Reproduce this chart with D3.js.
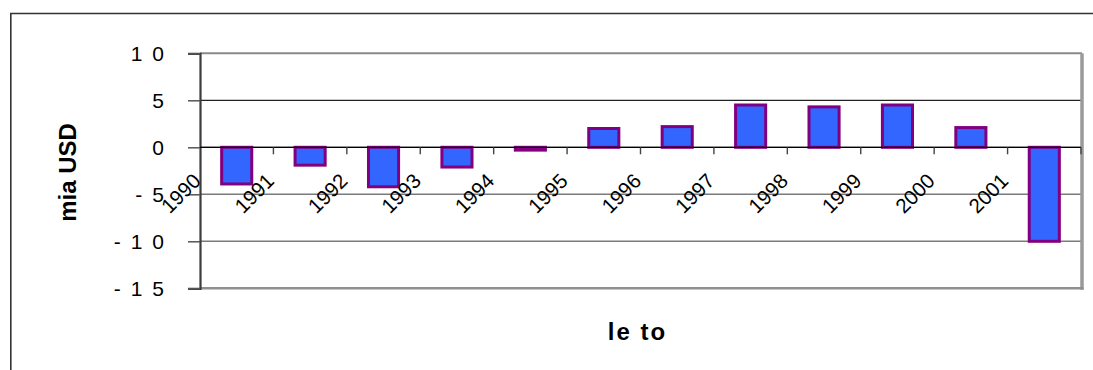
<!DOCTYPE html>
<html>
<head>
<meta charset="utf-8">
<script src="https://cdn.jsdelivr.net/npm/d3@7/dist/d3.min.js"></script>
<style>
  body { margin: 0; background: #fff; }
  svg { display: block; }
  text { font-family: Arial, "Liberation Sans", sans-serif; fill: #000; }
</style>
</head>
<body>
<svg id="chart" width="1093" height="370"></svg>
<script>
// Trade balance by year, bn USD
const years = ["1990", "1991", "1992", "1993", "1994", "1995", "1996", "1997", "1998", "1999", "2000", "2001"];
const balance = [-3.9, -1.9, -4.2, -2.1, -0.3, 2.0, 2.2, 4.5, 4.3, 4.5, 2.1, -10.0];
const yTicks = [10, 5, 0, -5, -10, -15];
const yDomain = [-15, 10];
const yTitle = "mia USD";
const xTitle = "le to";

const svg = d3.select("#chart");
const plot = { left: 200, right: 1081, top: 53.3, bottom: 288.3 };

const x = d3.scaleBand()
  .domain(years)
  .range([plot.left, plot.right])
  .paddingInner(0.59)
  .paddingOuter(0.295);
const step = x.step();
const slotLeft = d => x(d) - (step - x.bandwidth()) / 2;

const y = d3.scaleLinear().domain(yDomain).range([plot.bottom, plot.top]);

// outer chart frame
svg.append("path")
  .attr("d", `M10.8,370 V13.5 H1093`)
  .attr("fill", "none").attr("stroke", "#333").attr("stroke-width", 1.6);

// horizontal gridlines
svg.append("g").selectAll("line")
  .data(yTicks.filter(t => t !== yDomain[0] && t !== yDomain[1]))
  .join("line")
  .attr("x1", plot.left).attr("x2", plot.right)
  .attr("y1", d => y(d)).attr("y2", d => y(d))
  .attr("stroke", d => d >= 0 ? "#222" : "#7a7a7a")
  .attr("stroke-width", d => d >= 0 ? 1.2 : 1.4);

// plot area border (top, right, bottom)
svg.append("path")
  .attr("d", `M${plot.left},${y(yDomain[1])} H${plot.right + 1}`)
  .attr("stroke", "#8a8a8a").attr("stroke-width", 2).attr("fill", "none");
svg.append("path")
  .attr("d", `M${plot.right + 1},${y(yDomain[1])} V${y(yDomain[0]) + 1.5}`)
  .attr("stroke", "#9a9a9a").attr("stroke-width", 3.5).attr("fill", "none");
svg.append("path")
  .attr("d", `M${plot.left},${y(yDomain[0])} H${plot.right + 2.5}`)
  .attr("stroke", "#8f8f8f").attr("stroke-width", 2.6).attr("fill", "none");

// value axis
const yAxis = svg.append("g")
  .attr("transform", `translate(${plot.left},0)`)
  .call(d3.axisLeft(y).tickValues(yTicks).tickSize(12).tickPadding(16).tickFormat(d3.format("d")));
yAxis.select(".domain").attr("stroke", "#3c3c3c").attr("stroke-width", 2.2);
yAxis.selectAll(".tick line").attr("stroke", "#555").attr("stroke-width", 1.5);
yAxis.selectAll(".tick text")
  .attr("font-size", 21)
  .attr("letter-spacing", 10)
  .attr("dx", 2)
  .attr("dy", "0.36em")
  .style("font-family", "Arial, 'Liberation Sans', sans-serif")
  .text(d => String(d));

// bars
svg.append("g").selectAll("rect")
  .data(balance)
  .join("rect")
  .attr("x", (d, i) => x(years[i]))
  .attr("width", x.bandwidth())
  .attr("y", d => y(Math.max(0, d)))
  .attr("height", d => Math.abs(y(d) - y(0)))
  .attr("fill", "#3366ff")
  .attr("stroke", "#800080")
  .attr("stroke-width", 3);

// category axis along zero
svg.append("line")
  .attr("x1", plot.left).attr("x2", plot.right)
  .attr("y1", y(0)).attr("y2", y(0))
  .attr("stroke", "#000").attr("stroke-width", 1.3);
svg.append("g").selectAll("line")
  .data(years)
  .join("line")
  .attr("x1", d => slotLeft(d) + step).attr("x2", d => slotLeft(d) + step)
  .attr("y1", y(0)).attr("y2", y(0) + 7)
  .attr("stroke", "#444").attr("stroke-width", 1.4);

// category labels
svg.append("g").selectAll("text")
  .data(years)
  .join("text")
  .attr("transform", d => `translate(${slotLeft(d) + 2},${y(0) + 35}) rotate(-45)`)
  .attr("text-anchor", "end")
  .attr("font-size", 20.5)
  .text(d => d);

// axis titles
svg.append("text")
  .attr("transform", `translate(76,172.5) rotate(-90)`)
  .attr("text-anchor", "middle")
  .attr("font-size", 24)
  .attr("font-weight", "bold")
  .text(yTitle);

svg.append("text")
  .attr("x", 637.5).attr("y", 340)
  .attr("text-anchor", "middle")
  .attr("font-size", 24)
  .attr("font-weight", "bold")
  .attr("letter-spacing", 2)
  .text(xTitle);
</script>
</body>
</html>
